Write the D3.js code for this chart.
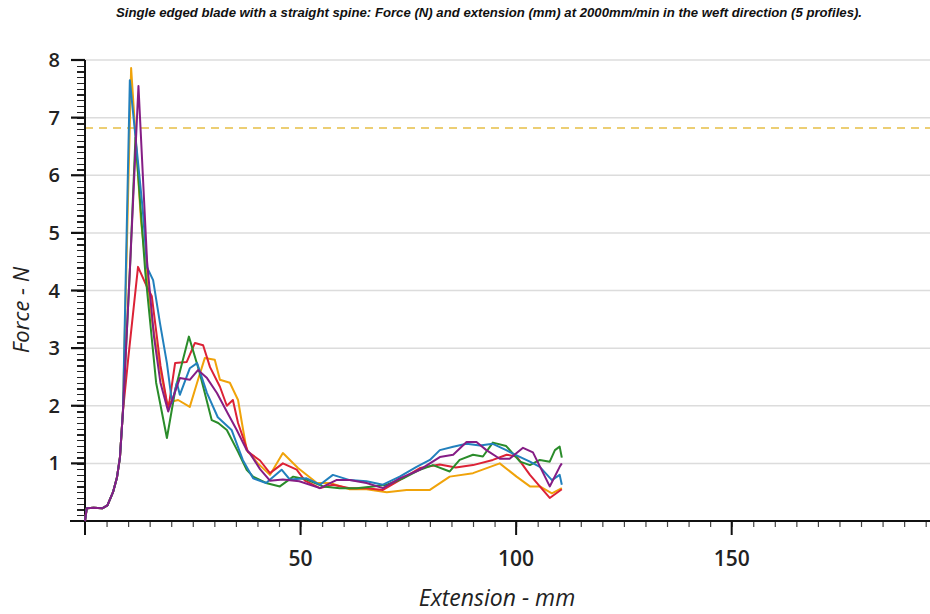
<!DOCTYPE html>
<html>
<head>
<meta charset="utf-8">
<script src="https://cdn.jsdelivr.net/npm/d3@7"></script>
<style>
  body { margin: 0; background: #fff; }
  svg { display: block; }
</style>
</head>
<body>
<div id="chart"></div>
<script>
// data: [extension mm, force N]
var startPts = [[0, 0], [0.4, 0.22], [2, 0.23], [4, 0.22], [5.2, 0.27], [6.5, 0.5], [7.4, 0.75], [8.1, 1.1], [8.8, 1.9]]

var yellowPts = startPts.concat([[10.7, 7.86], [13, 5.2], [15.5, 3.5], [17, 2.8], [19, 2.05], [21.6, 2.1], [24.3, 1.98], [26, 2.4], [27.8, 2.83], [30.1, 2.8], [31.3, 2.45], [33.6, 2.4], [35.5, 2.1], [36.4, 1.7], [37.5, 1.23], [40.1, 1.0], [42.9, 0.8], [45.9, 1.18], [49.4, 0.92], [53.8, 0.66], [56.8, 0.66], [61.4, 0.55], [65.3, 0.55], [70, 0.5], [74.6, 0.54], [80, 0.54], [84.6, 0.77], [90, 0.83], [96.2, 1.0], [100.1, 0.77], [103.2, 0.6], [105.5, 0.6], [108.3, 0.48], [110.6, 0.57]])

var redPts = startPts.concat([[10, 2.8], [12.3, 4.41], [14.4, 4.06], [15.5, 3.9], [17.5, 2.7], [19.3, 1.93], [20.9, 2.74], [23.6, 2.76], [25.5, 3.09], [27.4, 3.05], [29, 2.67], [31.3, 2.33], [32.9, 2.0], [34.3, 2.1], [35.5, 1.7], [37.8, 1.2], [40.6, 1.05], [42.9, 0.83], [45.9, 1.0], [49.1, 0.89], [51, 0.7], [54.5, 0.57], [57.5, 0.63], [61.4, 0.57], [65.3, 0.57], [69.1, 0.54], [73, 0.71], [77.7, 0.92], [82.3, 0.98], [86, 0.93], [90, 0.97], [94.6, 1.06], [97.8, 1.15], [100.1, 1.12], [103.2, 0.8], [105.5, 0.6], [107.8, 0.4], [110.6, 0.55]])

var greenPts = startPts.concat([[10.5, 4.5], [11.7, 6.65], [14, 4.3], [16.5, 2.4], [19, 1.44], [21, 2.3], [24.1, 3.2], [26.5, 2.6], [29.4, 1.75], [30.9, 1.7], [32.9, 1.58], [35.5, 1.2], [37.5, 0.89], [39, 0.77], [42, 0.66], [45.2, 0.6], [48.3, 0.77], [51.4, 0.72], [55.2, 0.6], [59.1, 0.57], [63, 0.57], [66.8, 0.6], [70, 0.63], [73.8, 0.74], [77.7, 0.89], [80.7, 0.97], [84.6, 0.86], [86.9, 1.06], [90, 1.15], [92.3, 1.12], [94.6, 1.36], [97.7, 1.3], [100.9, 1.03], [103.2, 0.97], [105.5, 1.06], [107.8, 1.03], [109, 1.23], [110.1, 1.29], [110.6, 1.1]])

var bluePts = startPts.concat([[10.4, 7.65], [13.4, 5.4], [14.4, 4.4], [15.8, 4.18], [17.4, 3.43], [19, 2.74], [20.2, 2.05], [21.3, 2.4], [22, 2.19], [24.3, 2.65], [26, 2.74], [28.3, 2.22], [30.8, 1.8], [34, 1.58], [36.6, 1.06], [37.8, 0.9], [39, 0.74], [42, 0.66], [45.6, 0.89], [47.5, 0.72], [51.4, 0.74], [54.5, 0.63], [57.5, 0.8], [61.4, 0.71], [65.3, 0.69], [69.1, 0.63], [73, 0.77], [76.9, 0.94], [80, 1.06], [82.3, 1.23], [85.4, 1.29], [88.5, 1.34], [91.6, 1.31], [94.6, 1.34], [97.7, 1.23], [100.1, 1.14], [103.2, 1.03], [105.5, 0.94], [108.3, 0.71], [110.1, 0.8], [110.6, 0.63]])

var purplePts = startPts.concat([[10.5, 4.5], [12.4, 7.55], [14.4, 4.5], [16, 3.2], [17.5, 2.4], [19.3, 1.9], [22, 2.48], [24.3, 2.45], [26.2, 2.62], [28.3, 2.48], [30.6, 2.22], [33.1, 1.87], [35.2, 1.58], [37.5, 1.23], [38.2, 1.18], [40.6, 0.9], [42.9, 0.7], [45.9, 0.72], [49.7, 0.69], [54.5, 0.57], [58.3, 0.71], [61.4, 0.71], [65.3, 0.66], [69.1, 0.57], [73, 0.74], [77.7, 0.89], [82.3, 1.11], [85.4, 1.15], [88.5, 1.37], [90.8, 1.37], [93.1, 1.23], [96.2, 1.08], [98.5, 1.08], [101.6, 1.27], [103.9, 1.19], [107.8, 0.6], [110.1, 0.94], [110.6, 1.0]])

var refForce = 6.82   // dashed line
var xTicks = [50, 100, 150]
var yTicks = [1, 2, 3, 4, 5, 6, 7, 8]

var series = [
  {name: 'yellow', pts: yellowPts, color: '#f0a30a'},
  {name: 'red', pts: redPts, color: '#dc2236'},
  {name: 'green', pts: greenPts, color: '#2a8c2a'},
  {name: 'blue', pts: bluePts, color: '#2280bd'},
  {name: 'purple', pts: purplePts, color: '#851d85'}
]

var W = 930, H = 614
var mLeft = 85, mRight = 930, mTop = 60, mBottom = 521

var svg = d3.select('#chart').append('svg')
  .attr('width', W)
  .attr('height', H)

var x = d3.scaleLinear().domain([0, 196]).range([mLeft, mRight])
var y = d3.scaleLinear().domain([0, 8]).range([mBottom, mTop])

// title
svg.append('text')
  .attr('x', 489)
  .attr('y', 17)
  .attr('text-anchor', 'middle')
  .attr('textLength', 746)
  .attr('lengthAdjust', 'spacingAndGlyphs')
  .style('font-family', '"Liberation Sans Narrow", "Liberation Sans", Arial, sans-serif')
  .style('font-weight', 'bold')
  .style('font-style', 'italic')
  .style('font-size', '12px')
  .attr('fill', '#111')
  .text('Single edged blade with a straight spine: Force (N) and extension (mm) at 2000mm/min in the weft direction (5 profiles).')

// grid
svg.append('g').selectAll('line')
  .data(yTicks)
  .enter().append('line')
  .attr('x1', mLeft).attr('x2', mRight)
  .attr('y1', d => y(d)).attr('y2', d => y(d))
  .attr('stroke', '#dcdcdc')
  .attr('stroke-width', 1.5)

// dashed reference line
svg.append('line')
  .attr('x1', mLeft).attr('x2', mRight)
  .attr('y1', y(refForce)).attr('y2', y(refForce))
  .attr('stroke', '#e6bf45')
  .attr('stroke-width', 1.6)
  .attr('stroke-dasharray', '8,6')

// y axis with minor ticks every 0.1
var yAxis = d3.axisLeft(y)
  .tickValues(d3.range(0, 80.5, 1).map(d => d / 10))
  .tickSize(8)
  .tickFormat('')
var gy = svg.append('g').attr('transform', 'translate(' + mLeft + ',0)').call(yAxis)
gy.select('.domain').remove()
gy.selectAll('.tick line')
  .attr('stroke', '#222')
  .attr('stroke-width', 1.3)
  .attr('shape-rendering', 'crispEdges')

svg.append('g').selectAll('line')
  .data(yTicks)
  .enter().append('line')
  .attr('x1', mLeft - 14).attr('x2', mLeft)
  .attr('y1', d => y(d)).attr('y2', d => y(d))
  .attr('stroke', '#111')
  .attr('stroke-width', 2.2)

svg.append('g').selectAll('text')
  .data(yTicks)
  .enter().append('text')
  .attr('x', 60)
  .attr('y', d => y(d) + 7)
  .attr('text-anchor', 'end')
  .style('font-family', '"Open Sans", sans-serif')
  .style('font-weight', 600)
  .style('font-size', '20px')
  .attr('fill', '#222')
  .text(d => d)

// x axis, minor ticks every 5
var xAxis = d3.axisBottom(x)
  .tickValues(d3.range(5, 196, 5))
  .tickSize(6)
  .tickFormat('')
var gx = svg.append('g').attr('transform', 'translate(0,' + mBottom + ')').call(xAxis)
gx.select('.domain').remove()
gx.selectAll('.tick line').attr('stroke', '#444').attr('stroke-width', 1.2)

svg.append('g').selectAll('line')
  .data(xTicks)
  .enter().append('line')
  .attr('x1', d => x(d)).attr('x2', d => x(d))
  .attr('y1', mBottom).attr('y2', mBottom + 14)
  .attr('stroke', '#111')
  .attr('stroke-width', 2)

svg.append('g').selectAll('text')
  .data(xTicks)
  .enter().append('text')
  .attr('x', d => x(d))
  .attr('y', 566)
  .attr('text-anchor', 'middle')
  .style('font-family', '"Open Sans", sans-serif')
  .style('font-weight', 600)
  .style('font-size', '21px')
  .attr('fill', '#222')
  .text(d => d)

// axis lines
svg.append('line')
  .attr('x1', mLeft).attr('x2', mLeft)
  .attr('y1', mTop).attr('y2', mBottom + 14)
  .attr('stroke', '#111').attr('stroke-width', 2)
svg.append('line')
  .attr('x1', mLeft - 15).attr('x2', mRight)
  .attr('y1', mBottom).attr('y2', mBottom)
  .attr('stroke', '#111').attr('stroke-width', 2)

// axis titles
svg.append('text')
  .attr('transform', 'translate(29,310) rotate(-90)')
  .attr('text-anchor', 'middle')
  .style('font-family', '"Open Sans", sans-serif')
  .style('font-style', 'italic')
  .style('font-size', '22px')
  .attr('fill', '#222')
  .text('Force - N')

svg.append('text')
  .attr('x', 497)
  .attr('y', 606)
  .attr('text-anchor', 'middle')
  .style('font-family', '"Open Sans", sans-serif')
  .style('font-style', 'italic')
  .style('font-size', '23px')
  .attr('fill', '#222')
  .text('Extension - mm')

// profiles
var line = d3.line()
  .x(d => x(d[0]))
  .y(d => y(d[1]))

svg.append('g').selectAll('path')
  .data(series)
  .enter().append('path')
  .attr('fill', 'none')
  .attr('stroke', d => d.color)
  .attr('stroke-width', 2)
  .attr('stroke-linejoin', 'round')
  .attr('d', d => line(d.pts))
</script>
</body>
</html>
